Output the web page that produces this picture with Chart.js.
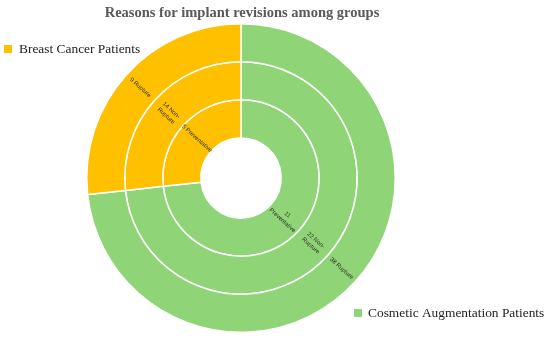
<!DOCTYPE html>
<html>

<head>
  <title>Reasons for implant revisions</title>
  <script src="https://cdn.jsdelivr.net/npm/chart.js"></script>
  <style>
    body { margin: 0; background: #fff; }
  </style>
</head>

<body>
  <canvas id="ringChart" width="550" height="339"></canvas>
  <script>
    // groups, in drawing order (clockwise from 12 o'clock)
    const groups = ['Cosmetic Augmentation Patients', 'Breast Cancer Patients'];
    const groupColors = ['rgb(143, 213, 120)', 'rgb(255, 192, 0)'];

    // rings, outer to inner
    const reasons = ['Rupture', 'Non-Rupture', 'Preventative'];
    const cosmeticCounts = [38, 22, 11];
    const breastCounts = [9, 14, 5];

    // slice sizes as drawn in the picture (share of each ring, %)
    const cosmeticShare = [73.3, 73.3, 73.3];
    const breastShare = [26.7, 26.7, 26.7];

    // slice label text (line breaks as in the picture)
    const cosmeticLabels = ['38 Rupture', '22 Non-\nRupture', '11\nPreventative'];
    const breastLabels = ['9 Rupture', '14 Non-\nRupture', '5 Preventative'];

    const chartTitle = 'Reasons for implant revisions among groups';

    const sliceLabels = {
      id: 'sliceLabels',
      afterDatasetsDraw(chart) {
        const ctx = chart.ctx;
        chart.data.datasets.forEach((ds, i) => {
          const meta = chart.getDatasetMeta(i);
          meta.data.forEach((arc, j) => {
            const p = arc.getProps(['x', 'y', 'startAngle', 'endAngle', 'innerRadius', 'outerRadius'], true);
            const mid = (p.startAngle + p.endAngle) / 2;
            const r = (p.innerRadius + p.outerRadius) / 2;
            let rot = mid;
            while (rot > Math.PI / 2) rot -= Math.PI;
            while (rot <= -Math.PI / 2) rot += Math.PI;
            const lines = ds.sliceText[j].split('\n');
            ctx.save();
            ctx.translate(p.x + Math.cos(mid) * r, p.y + Math.sin(mid) * r);
            ctx.rotate(rot);
            ctx.font = '6px "Liberation Sans", sans-serif';
            ctx.fillStyle = '#2e2e22';
            ctx.textAlign = 'center';
            ctx.textBaseline = 'middle';
            const lh = 7.5;
            lines.forEach((t, k) => {
              ctx.fillText(t, 0, (k - (lines.length - 1) / 2) * lh);
            });
            ctx.restore();
          });
        });
      }
    };

    const extraText = {
      id: 'extraText',
      afterDraw(chart) {
        const ctx = chart.ctx;
        ctx.save();
        ctx.font = 'bold 14.5px "Liberation Serif", serif';
        ctx.fillStyle = '#595959';
        ctx.textAlign = 'center';
        ctx.textBaseline = 'middle';
        ctx.fillText(chartTitle, 242, 13);

        ctx.font = '13.4px "Liberation Serif", serif';
        ctx.textAlign = 'left';
        // Breast Cancer legend (top left)
        ctx.fillStyle = groupColors[1];
        ctx.fillRect(4, 45, 8, 8);
        ctx.fillStyle = '#222';
        ctx.fillText(groups[1], 19, 49);
        // Cosmetic legend (bottom right)
        ctx.fillStyle = groupColors[0];
        ctx.fillRect(354, 309, 8, 8);
        ctx.fillStyle = '#222';
        ctx.fillText(groups[0], 368, 313);
        ctx.restore();
      }
    };

    const datasets = reasons.map((reason, i) => ({
      label: reason,
      data: [cosmeticShare[i], breastShare[i]],
      sliceText: [cosmeticLabels[i], breastLabels[i]],
      backgroundColor: groupColors,
      borderColor: '#ffffff',
      borderWidth: 1.5
    }));

    const ctx = document.getElementById('ringChart').getContext('2d');
    const chart = new Chart(ctx, {
      type: 'doughnut',
      data: {
        labels: groups,
        datasets: datasets
      },
      options: {
        responsive: false,
        animation: false,
        cutout: '26%',
        layout: {
          padding: { top: 23, bottom: 6, left: 86, right: 154 }
        },
        plugins: {
          legend: { display: false },
          tooltip: { enabled: false }
        }
      },
      plugins: [sliceLabels, extraText]
    });
  </script>
</body>

</html>
